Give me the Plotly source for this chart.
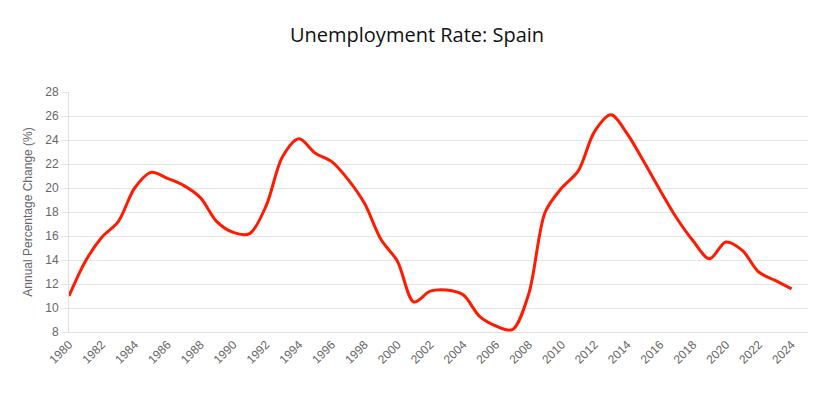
import plotly.graph_objects as go

years = list(range(1980, 2025))
unemployment = [11.0, 13.9, 15.9, 17.2, 20.0, 21.3, 20.8, 20.2, 19.2, 17.2,
                16.3, 16.2, 18.5, 22.6, 24.1, 22.9, 22.2, 20.7, 18.7, 15.7,
                13.9, 10.5, 11.4, 11.5, 11.1, 9.3, 8.5, 8.2, 11.2, 18.0,
                20.0, 21.4, 24.7, 26.1, 24.5, 22.2, 19.8, 17.5, 15.6, 14.1,
                15.5, 14.8, 13.0, 12.3, 11.6]
tick_years = list(range(1980, 2025, 2))
y_ticks = list(range(8, 29, 2))

fig = go.Figure()
fig.add_trace(go.Scatter(
    x=years, y=unemployment, mode="lines",
    line=dict(color="#ff1a00", width=3, shape="spline", smoothing=0.9),
    hoverinfo="x+y", showlegend=False,
))

fig.update_layout(
    width=810, height=391,
    margin=dict(l=61, r=10, t=84, b=67),
    paper_bgcolor="white", plot_bgcolor="white",
    title=dict(text="Unemployment Rate: Spain", x=0.505, xref="container",
               xanchor="center", y=0.931, yref="container", yanchor="middle",
               font=dict(family="Open Sans, Noto Sans, sans-serif", size=20, color="#111")),
    font=dict(family="Liberation Sans, Arial, sans-serif", size=12, color="#666"),
)
fig.update_xaxes(
    range=[1980, 2025], tickvals=tick_years, ticktext=[str(t) for t in tick_years],
    tickangle=-45, showgrid=False, zeroline=False,
    showline=True, linecolor="#e0e0e0", linewidth=1,
    tickfont=dict(size=12, color="#666"),
)
fig.update_yaxes(
    range=[8, 28], tickvals=y_ticks, showgrid=True, gridcolor="#e5e5e5",
    zeroline=False, showline=True, linecolor="#e0e0e0", linewidth=1,
    ticks="outside", ticklen=7, tickcolor="#e5e5e5",
    tickfont=dict(size=12, color="#666"),
    title=dict(text="Annual Percentage Change (%)", font=dict(size=12, color="#666"), standoff=10),
)

fig.write_html("out.html")
